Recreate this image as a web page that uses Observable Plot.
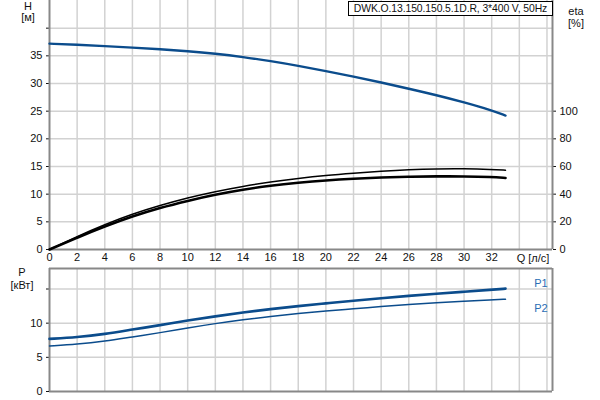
<!DOCTYPE html>
<html>
<head>
<meta charset="utf-8">
<script src="https://cdn.jsdelivr.net/npm/d3@7"></script>
<script src="https://cdn.jsdelivr.net/npm/@observablehq/plot@0.6"></script>
<style>
  html, body { margin: 0; padding: 0; background: #fff; }
  #wrap { position: relative; width: 600px; height: 400px; font-family: "Liberation Sans", Arial, sans-serif; font-size: 11px; color: #111; }
  #wrap svg { display: block; }
  .lbl { position: absolute; white-space: nowrap; line-height: 11px; transform: translate(-50%, -50%); }
  #legend { position: absolute; left: 348px; top: 1px; width: 203px; height: 13px; border: 1px solid #000; background: #fff; text-align: center; line-height: 13px; font-size: 10.4px; white-space: nowrap; overflow: hidden; letter-spacing: -0.1px; }
</style>
</head>
<body>
<div id="wrap"></div>
<script>
// ---- data ----
const Q    = [0, 2, 4, 6, 8, 10, 12, 14, 16, 18, 20, 22, 24, 26, 28, 30, 32, 33];
const H    = [37.2, 37.0, 36.75, 36.5, 36.2, 35.85, 35.4, 34.8, 34.05, 33.2, 32.25, 31.25, 30.2, 29.05, 27.9, 26.6, 25.15, 24.2];
const eta1 = [0, 9.5, 18.1, 25.7, 31.9, 37.4, 41.9, 45.7, 48.8, 51.4, 53.6, 55.2, 56.6, 57.7, 58.3, 58.4, 57.9, 57.3];
const eta2 = [0, 8.6, 16.7, 24.0, 30.2, 35.2, 39.7, 43.3, 46.2, 48.3, 50.0, 51.2, 52.1, 52.6, 52.9, 52.9, 52.4, 51.7];
const P1   = [7.7, 7.94, 8.4, 9.07, 9.7, 10.4, 11.0, 11.57, 12.06, 12.5, 12.9, 13.3, 13.65, 14.0, 14.3, 14.6, 14.9, 15.05];
const P2   = [6.67, 6.9, 7.35, 8.0, 8.6, 9.3, 9.95, 10.5, 11.0, 11.4, 11.8, 12.1, 12.45, 12.75, 13.0, 13.2, 13.4, 13.5];

const xTicks = [0, 2, 4, 6, 8, 10, 12, 14, 16, 18, 20, 22, 24, 26, 28, 30, 32];
const xGrid = [2, 4, 6, 8, 10, 12, 14, 16, 18, 20, 22, 24, 26, 28, 30, 32, 34, 36];
const hTicks = [0, 5, 10, 15, 20, 25, 30, 35, 40];
const etaTicks = [0, 20, 40, 60, 80, 100];
const pTicks = [0, 5, 10, 15];
const xMax = 36.4;
const etaFactor = 4; // eta [%] = 4 * H scale units

const pumpTitle = "DWK.O.13.150.150.5.1D.R, 3*400 V, 50Hz";

const table = Q.map((q, i) => ({q, H: H[i], eta1: eta1[i], eta2: eta2[i], P1: P1[i], P2: P2[i]}));

const blue = "#0b4c8c";
const gridC = "#d2d2d2";
const axisC = "#888888";
const font = {fontFamily: "'Liberation Sans', Arial, sans-serif", fontSize: "11px", background: "transparent", color: "#111"};
const crv = "basis";

const topPlot = Plot.plot({
  width: 600, height: 264,
  marginLeft: 49, marginRight: 48, marginTop: 0, marginBottom: 15,
  style: font,
  x: {domain: [0, xMax]},
  y: {domain: [0, 45]},
  marks: [
    Plot.gridX(xGrid, {stroke: gridC, strokeOpacity: 1, strokeWidth: 1.5}),
    Plot.gridY(hTicks.filter(d => d > 0), {stroke: gridC, strokeOpacity: 1, strokeWidth: 1.5}),
    Plot.axisX(xTicks, {tickSize: 0, tickPadding: 4, label: null}),
    Plot.axisY(hTicks, {anchor: "left", tickSize: 3, tickPadding: 4, label: null, tickFormat: d => d === 40 ? "" : d}),
    Plot.axisY(etaTicks.map(e => e / etaFactor), {anchor: "right", tickSize: 3, tickPadding: 4, label: null, tickFormat: d => d * etaFactor}),
    Plot.ruleX([0, xMax], {stroke: axisC, strokeWidth: 2}),
    Plot.ruleY([0], {stroke: axisC, strokeWidth: 2}),
    Plot.line(table, {x: "q", y: "H", stroke: blue, strokeWidth: 2.4, curve: crv}),
    Plot.line(table, {x: "q", y: d => d.eta1 / etaFactor, stroke: "#000", strokeWidth: 1.5, curve: crv}),
    Plot.line(table, {x: "q", y: d => d.eta2 / etaFactor, stroke: "#000", strokeWidth: 2.6, curve: crv})
  ]
});

const bottomPlot = Plot.plot({
  width: 600, height: 136,
  marginLeft: 49, marginRight: 48, marginTop: 4, marginBottom: 9,
  style: font,
  x: {domain: [0, xMax], axis: null},
  y: {domain: [0, 18]},
  marks: [
    Plot.gridX(xGrid, {stroke: gridC, strokeOpacity: 1, strokeWidth: 1.5}),
    Plot.gridY(pTicks.filter(d => d > 0), {stroke: gridC, strokeOpacity: 1, strokeWidth: 1.5}),
    Plot.axisY(pTicks, {anchor: "left", tickSize: 3, tickPadding: 4, label: null, tickFormat: d => d === 15 ? "" : d}),
    Plot.ruleX([0, xMax], {stroke: axisC, strokeWidth: 2}),
    Plot.ruleY([0, 18], {stroke: axisC, strokeWidth: 2}),
    Plot.line(table, {x: "q", y: "P1", stroke: blue, strokeWidth: 2.6, curve: crv}),
    Plot.line(table, {x: "q", y: "P2", stroke: blue, strokeWidth: 1.5, curve: crv})
  ]
});

const wrap = document.getElementById("wrap");
wrap.appendChild(topPlot);
wrap.appendChild(bottomPlot);

function label(text, x, y, color) {
  const d = document.createElement("div");
  d.className = "lbl";
  d.textContent = text;
  d.style.left = x + "px";
  d.style.top = y + "px";
  if (color) d.style.color = color;
  wrap.appendChild(d);
}
label("H", 28, 6);
label("[м]", 28, 17);
label("eta", 576, 11);
label("[%]", 576, 23);
label("Q [л/с]", 533, 258);
label("P", 22, 272);
label("[кВт]", 22, 285);
label("P1", 541, 283, "#2a6db5");
label("P2", 541, 308, "#2a6db5");

const lg = document.createElement("div");
lg.id = "legend";
lg.textContent = pumpTitle;
wrap.appendChild(lg);
</script>
</body>
</html>
